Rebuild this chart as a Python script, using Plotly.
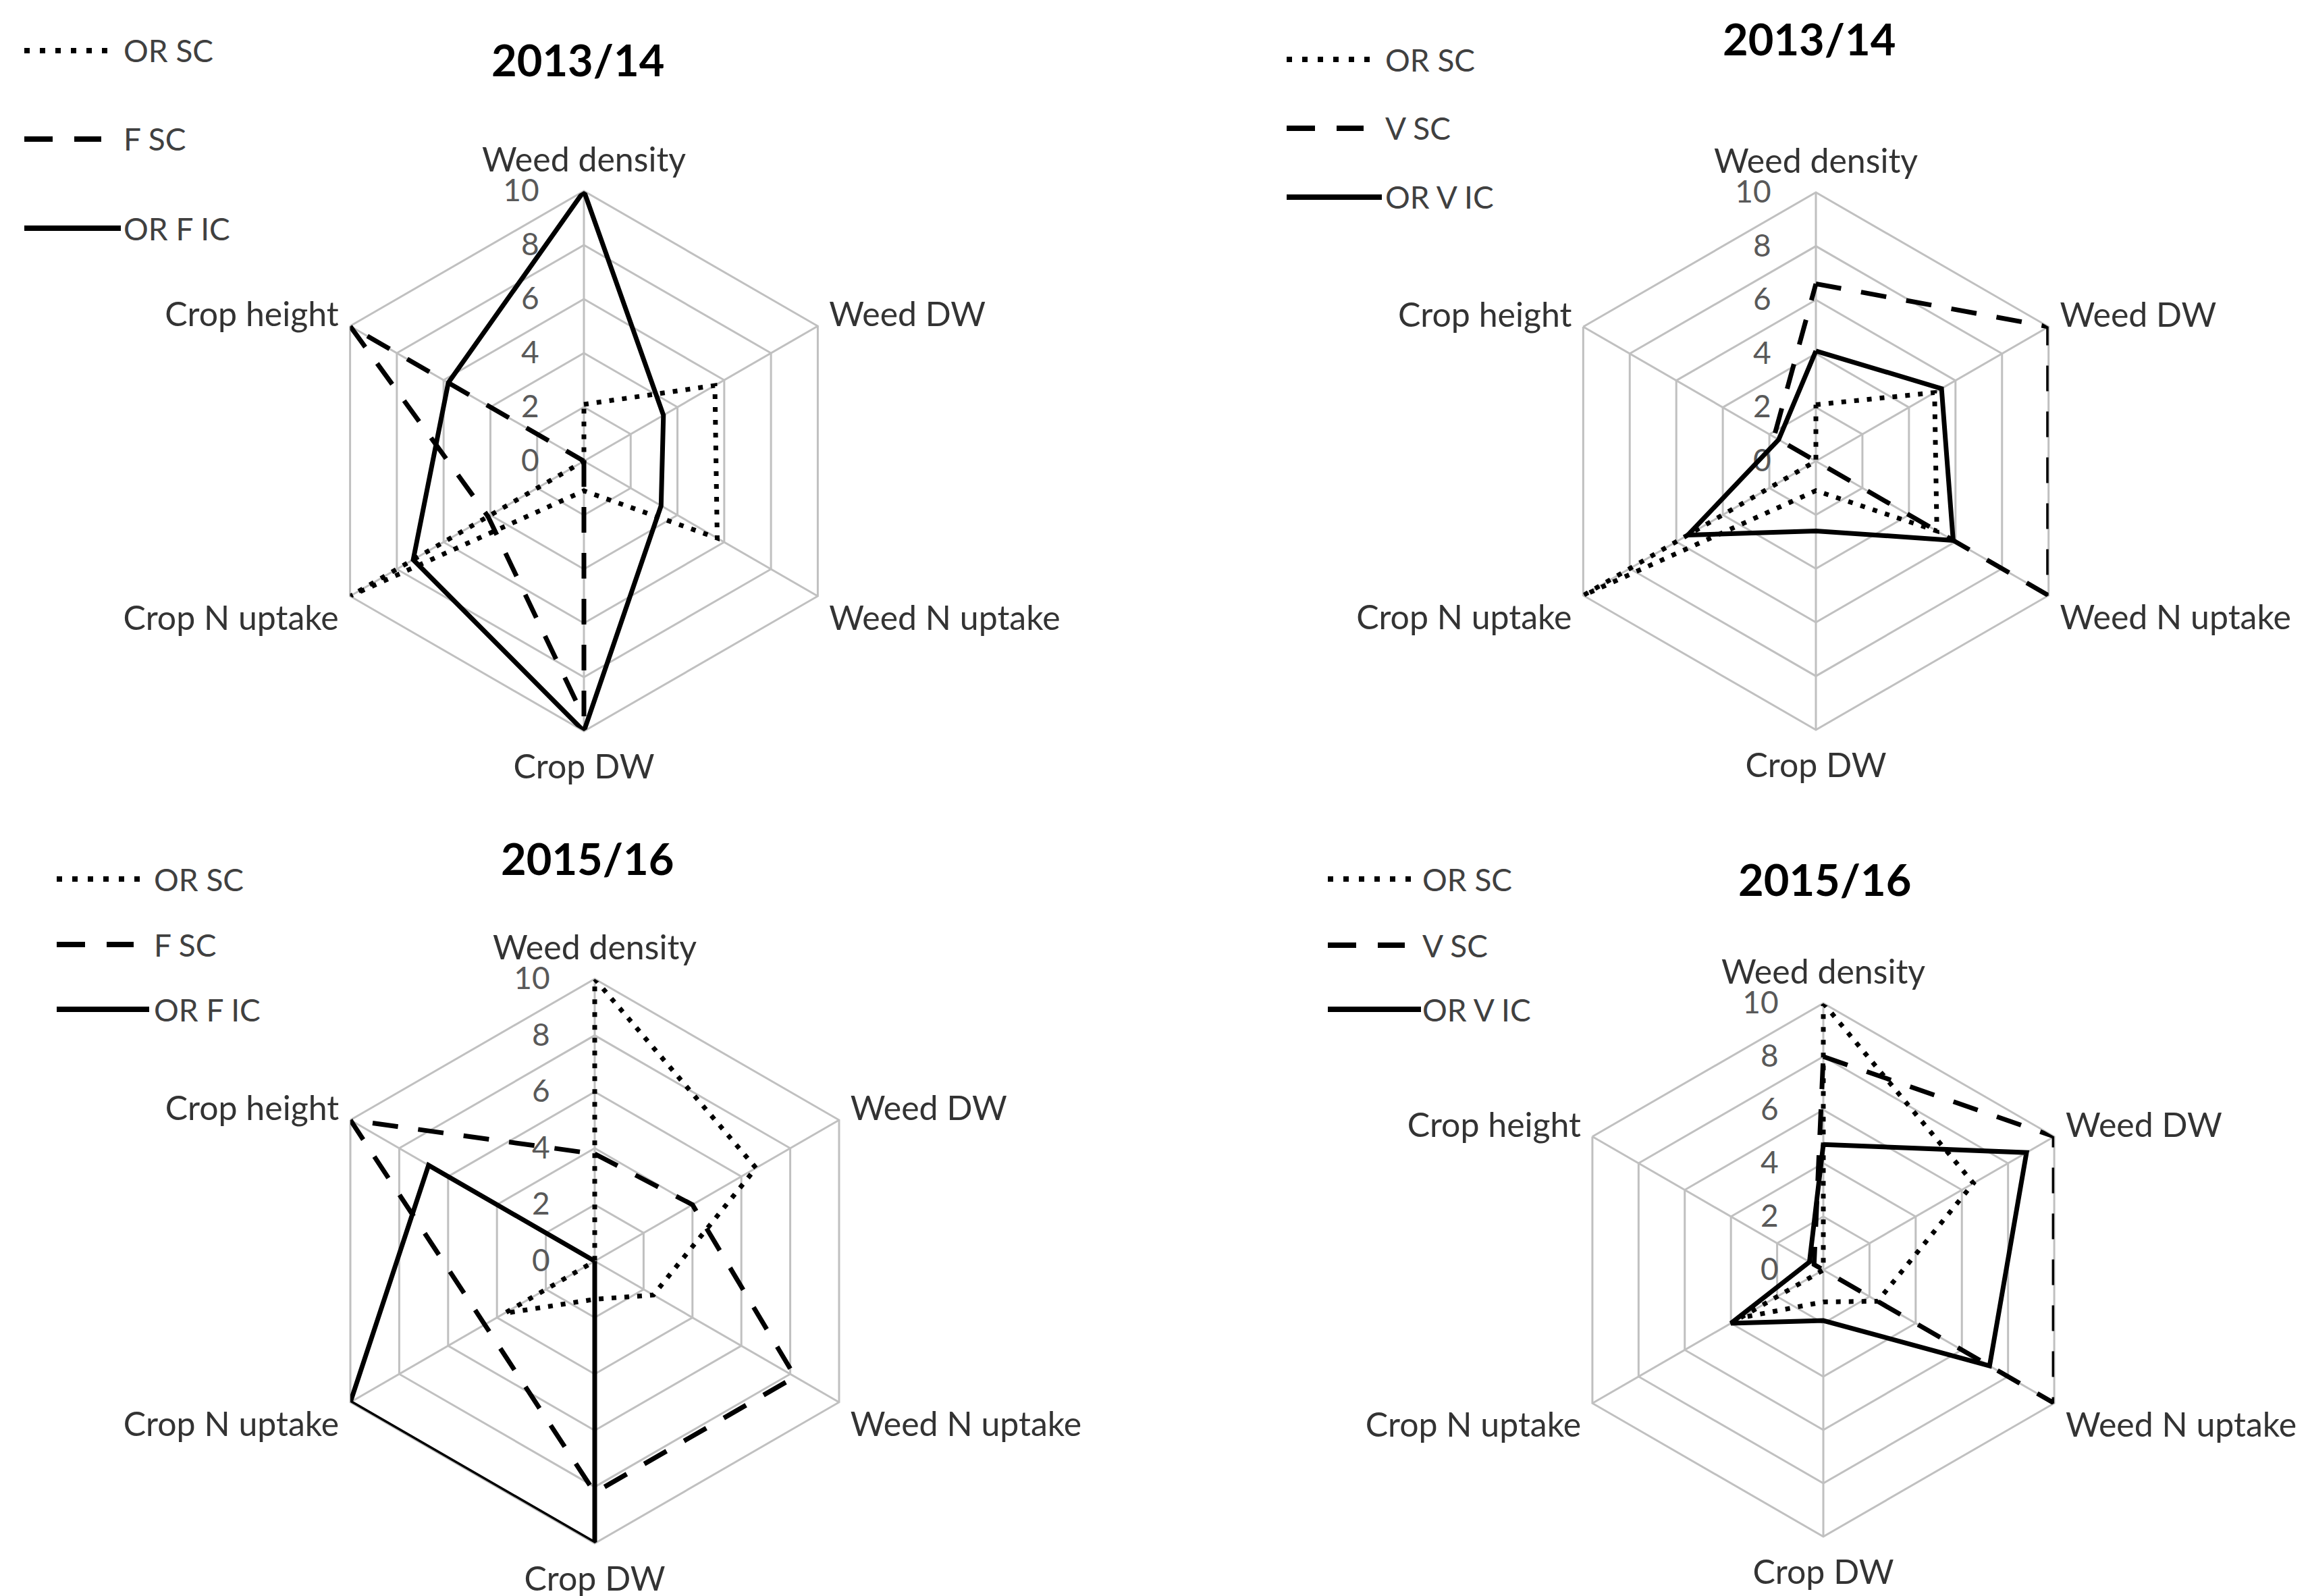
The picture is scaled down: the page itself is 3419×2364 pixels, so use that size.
import plotly.graph_objects as go

W, H = 3419, 2364

# ---------------- data ----------------
axis_labels = ["Weed density", "Weed DW", "Weed N uptake", "Crop DW", "Crop N uptake", "Crop height"]
radial_ticks = [0, 2, 4, 6, 8, 10]
panel_titles = ["2013/14", "2013/14", "2015/16", "2015/16"]

# 2013/14 - OR / F
p1_or_sc = [2.1, 5.6, 5.7, 1.1, 10, 0]
p1_f_sc = [0, 0, 0, 9.5, 4.1, 10]
p1_or_f_ic = [10, 3.4, 3.3, 10, 7.3, 5.8]
# 2013/14 - OR / V
p2_or_sc = [2.1, 5.1, 5.2, 1.1, 10, 0]
p2_v_sc = [6.6, 10, 10, 0, 0, 1.8]
p2_or_v_ic = [4.1, 5.4, 5.9, 2.6, 5.5, 1.6]
# 2015/16 - OR / F
p3_or_sc = [10, 6.6, 2.4, 1.35, 3.7, 0]
p3_f_sc = [3.8, 4.0, 8.2, 8.2, 4.5, 10]
p3_or_f_ic = [0, 0, 0, 10, 10, 6.8]
# 2015/16 - OR / V
p4_or_sc = [10, 6.5, 2.35, 1.2, 3.6, 0]
p4_v_sc = [8.0, 10, 10, 0, 0, 0.4]
p4_or_v_ic = [4.7, 8.8, 7.2, 1.9, 4.0, 0.6]

panel_series = [
    [("OR SC", p1_or_sc, "dot"), ("F SC", p1_f_sc, "dash"), ("OR F IC", p1_or_f_ic, "solid")],
    [("OR SC", p2_or_sc, "dot"), ("V SC", p2_v_sc, "dash"), ("OR V IC", p2_or_v_ic, "solid")],
    [("OR SC", p3_or_sc, "dot"), ("F SC", p3_f_sc, "dash"), ("OR F IC", p3_or_f_ic, "solid")],
    [("OR SC", p4_or_sc, "dot"), ("V SC", p4_v_sc, "dash"), ("OR V IC", p4_or_v_ic, "solid")],
]

# ---------------- layout geometry (pixels) ----------------
panels = [
    dict(cx=857, cy=675, r=400, tx=848, ty=80, lx0=28, lx1=165, ltx=173, ly=[67, 198, 330]),
    dict(cx=2682, cy=675, r=398, tx=2672, ty=49, lx0=1898, lx1=2033, ltx=2042, ly=[80, 182, 284]),
    dict(cx=873, cy=1860, r=418, tx=862, ty=1263, lx0=76, lx1=207, ltx=218, ly=[1294, 1391, 1487]),
    dict(cx=2693, cy=1873, r=395, tx=2695, ty=1294, lx0=1959, lx1=2091, ltx=2097, ly=[1294, 1392, 1487]),
]

GRID = "#c0c0c0"
LW = 7
DASHES = {"dot": "7px,12px", "dash": "38px,30px", "solid": "solid"}
LEG_DASHES = {"dot": "8px,15px", "dash": "42px,32px", "solid": "solid"}
FONT = "Lato"
PAD = "\u00a0" * 5  # keeps radial tick labels left of the vertical axis


def px_x(x):
    return x / W


def px_y(y):
    return 1 - y / H


fig = go.Figure()
shapes = []
annotations = []

for i, (pan, series) in enumerate(zip(panels, panel_series)):
    sub = "polar" if i == 0 else f"polar{i + 1}"
    for k, (name, vals, style) in enumerate(series):
        fig.add_trace(go.Scatterpolar(
            r=vals + vals[:1],
            theta=axis_labels + axis_labels[:1],
            mode="lines",
            name=name,
            subplot=sub,
            showlegend=False,
            line=dict(color="black", width=LW, dash=DASHES[style]),
        ))
        # manual legend entry (long line samples as in the original)
        yy = pan["ly"][k]
        if style == "dash":
            x1 = pan["lx0"] + 114
        elif style == "dot":
            x1 = pan["lx1"]
        else:
            x1 = pan["lx1"] + 6
        shapes.append(dict(
            type="line", xref="paper", yref="paper",
            x0=px_x(pan["lx0"]), x1=px_x(x1), y0=px_y(yy), y1=px_y(yy),
            line=dict(color="black", width=LW + 1, dash=LEG_DASHES[style]),
        ))
        annotations.append(dict(
            xref="paper", yref="paper", x=px_x(pan["ltx"]), y=px_y(yy),
            xanchor="left", yanchor="middle", showarrow=False, text=name,
            font=dict(family=FONT, size=46, color="#404040"),
        ))
    annotations.append(dict(
        xref="paper", yref="paper", x=px_x(pan["tx"]), y=px_y(pan["ty"]),
        xanchor="center", yanchor="middle", showarrow=False,
        text=f"<b>{panel_titles[i]}</b>",
        font=dict(family=FONT, size=65, color="black"),
    ))

    polar = dict(
        domain=dict(
            x=[px_x(pan["cx"] - pan["r"]), px_x(pan["cx"] + pan["r"])],
            y=[px_y(pan["cy"] + pan["r"]), px_y(pan["cy"] - pan["r"])],
        ),
        gridshape="linear",
        bgcolor="white",
        radialaxis=dict(
            range=[0, 10], tickvals=radial_ticks, ticktext=[str(v) + PAD for v in radial_ticks],
            angle=90, side="counterclockwise", showline=False, ticks="",
            tickangle=90,
            gridcolor=GRID, gridwidth=3, layer="below traces",
            tickfont=dict(family=FONT, size=46, color="#595959"),
        ),
        angularaxis=dict(
            type="category", categoryarray=axis_labels, rotation=90, direction="clockwise",
            showline=True, linecolor=GRID, linewidth=3, gridcolor=GRID, gridwidth=3,
            ticks="outside", ticklen=8, tickcolor="rgba(0,0,0,0)", layer="below traces",
            tickfont=dict(family=FONT, size=50, color="#333333"),
        ),
    )
    fig.update_layout(**{sub: polar})

fig.update_layout(
    width=W, height=H,
    margin=dict(l=0, r=0, t=0, b=0),
    paper_bgcolor="white",
    plot_bgcolor="white",
    showlegend=False,
    shapes=shapes,
    annotations=annotations,
)

fig.write_html("out.html")
